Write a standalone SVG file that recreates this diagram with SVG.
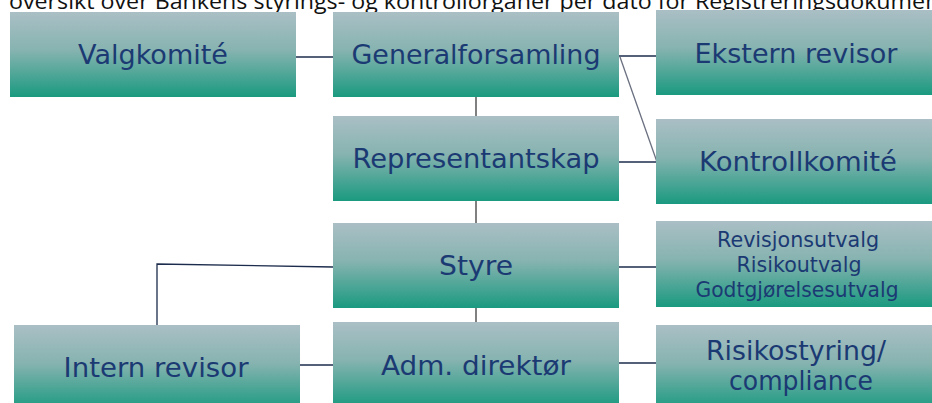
<svg xmlns="http://www.w3.org/2000/svg" width="932" height="403" viewBox="0 0 932 403">
<defs>
<linearGradient id="g" x1="0" y1="0" x2="0" y2="1">
<stop offset="0" stop-color="#aabfc5"/>
<stop offset="0.45" stop-color="#86b3b0"/>
<stop offset="1" stop-color="#1a9a80"/>
</linearGradient>
<style>
.box{fill:url(#g);}
.t{font-family:"DejaVu Sans",Verdana,sans-serif;font-size:27px;fill:#1b3a73;text-anchor:middle;}
.s{font-family:"DejaVu Sans",Verdana,sans-serif;font-size:20.5px;fill:#1b3a73;text-anchor:middle;}
.h{stroke:#1c2c4c;stroke-width:1.3;fill:none;}
.v{stroke:#808080;stroke-width:2;fill:none;}
.d{stroke:#6a7080;stroke-width:1.3;fill:none;}
.title{font-family:"Open Sans","Liberation Sans",sans-serif;font-size:22px;fill:#111;}
</style>
</defs>
<rect width="932" height="403" fill="#fff"/>
<text class="title" x="9" y="9" textLength="960" lengthAdjust="spacingAndGlyphs">oversikt over Bankens styrings- og kontrollorganer per dato for Registreringsdokumentet</text>
<g id="connectors">
<line class="h" x1="296" y1="57" x2="333" y2="57"/>
<line class="h" x1="619" y1="56" x2="656" y2="56"/>
<line class="d" x1="620" y1="57" x2="657" y2="162"/>
<line class="h" x1="619" y1="162" x2="656" y2="162"/>
<line class="v" x1="476" y1="97" x2="476" y2="116"/>
<line class="v" x1="476" y1="201" x2="476" y2="223"/>
<line class="v" x1="476" y1="308" x2="476" y2="322"/>
<line class="h" x1="619" y1="267" x2="656" y2="267"/>
<line class="h" x1="619" y1="363" x2="656" y2="363"/>
<line class="h" x1="300" y1="365" x2="335" y2="365"/>
<polyline class="h" points="333,267 157,264 157,325"/>
</g>
<g id="valgkomite"><rect class="box" x="10" y="12" width="286" height="85"/><text class="t" x="153" y="64" textLength="150" lengthAdjust="spacingAndGlyphs">Valgkomité</text></g>
<g id="generalforsamling"><rect class="box" x="333" y="12" width="286" height="85"/><text class="t" x="476" y="64" textLength="249" lengthAdjust="spacingAndGlyphs">Generalforsamling</text></g>
<g id="ekstern-revisor"><rect class="box" x="656" y="10" width="280" height="85"/><text class="t" x="796" y="63" textLength="203" lengthAdjust="spacingAndGlyphs">Ekstern revisor</text></g>
<g id="representantskap"><rect class="box" x="333" y="116" width="286" height="85"/><text class="t" x="476" y="168" textLength="247" lengthAdjust="spacingAndGlyphs">Representantskap</text></g>
<g id="kontrollkomite"><rect class="box" x="656" y="119" width="280" height="85"/><text class="t" x="798" y="171" textLength="198" lengthAdjust="spacingAndGlyphs">Kontrollkomité</text></g>
<g id="styre"><rect class="box" x="333" y="223" width="286" height="85"/><text class="t" x="476" y="275" textLength="74" lengthAdjust="spacingAndGlyphs">Styre</text></g>
<g id="utvalg"><rect class="box" x="656" y="221" width="280" height="86"/><text class="s" x="798" y="247" textLength="162" lengthAdjust="spacingAndGlyphs">Revisjonsutvalg</text><text class="s" x="799" y="272" textLength="125" lengthAdjust="spacingAndGlyphs">Risikoutvalg</text><text class="s" x="797" y="297" textLength="203" lengthAdjust="spacingAndGlyphs">Godtgjørelsesutvalg</text></g>
<g id="intern-revisor"><rect class="box" x="14" y="325" width="286" height="85"/><text class="t" x="156" y="377" textLength="185" lengthAdjust="spacingAndGlyphs">Intern revisor</text></g>
<g id="adm-direktor"><rect class="box" x="333" y="322" width="286" height="85"/><text class="t" x="476" y="375" textLength="190" lengthAdjust="spacingAndGlyphs">Adm. direktør</text></g>
<g id="risikostyring"><rect class="box" x="656" y="325" width="280" height="85"/><text class="t" x="796" y="360" textLength="180" lengthAdjust="spacingAndGlyphs">Risikostyring/</text><text class="t" x="801" y="390" textLength="144" lengthAdjust="spacingAndGlyphs">compliance</text></g>
</svg>
